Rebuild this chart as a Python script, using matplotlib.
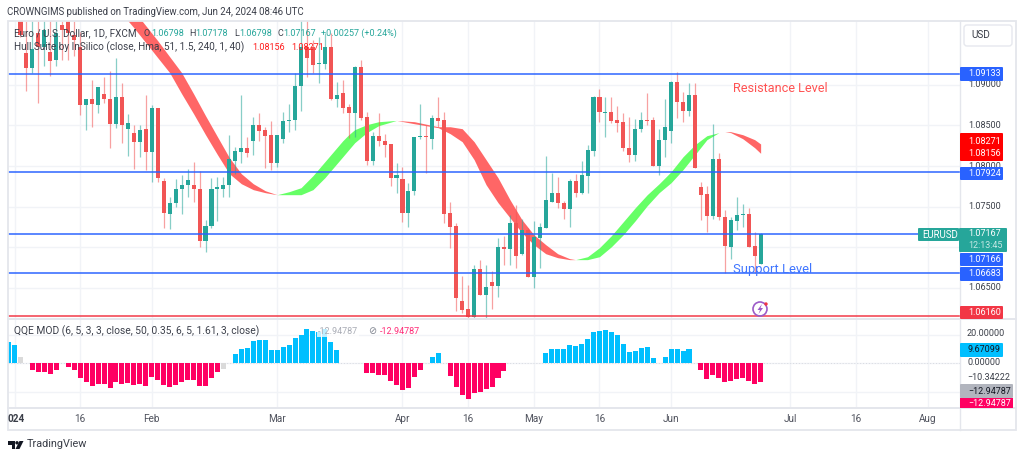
import matplotlib
matplotlib.use("Agg")
import matplotlib.pyplot as plt
from matplotlib.patches import Rectangle, FancyBboxPatch, Circle, Polygon
import numpy as np

plt.rcParams["font.family"] = ["Roboto", "DejaVu Sans"]

# daily candles, the first one is bar 1 (2 Jan 2024)
opens = [1.0986, 1.09394, 1.09209, 1.09640, 1.09467, 1.09406, 1.09308, 1.09738, 1.0986, 1.09615,
         1.09467, 1.08754, 1.08828, 1.08754, 1.08889, 1.08828, 1.08520, 1.08852, 1.08459, 1.08410,
         1.08299, 1.08459, 1.08176, 1.08717, 1.07819, 1.07413, 1.07549, 1.07721, 1.07770, 1.07770,
         1.07721, 1.07081, 1.07266, 1.07721, 1.07721, 1.07770, 1.08065, 1.08176, 1.08225, 1.08311,
         1.08508, 1.08447, 1.08385, 1.08041, 1.08336, 1.08557, 1.08570, 1.08988, 1.09467, 1.09467,
         1.09258, 1.09258, 1.09467, 1.08828, 1.08902, 1.08729, 1.08656, 1.09221, 1.08606, 1.08065,
         1.08373, 1.08311, 1.08274, 1.07856, 1.07844, 1.07426, 1.07696, 1.08360, 1.08373, 1.08336,
         1.08594, 1.08570, 1.07426, 1.07266, 1.06343, 1.06245, 1.06146, 1.06737, 1.06417, 1.06577,
         1.06528, 1.07007, 1.06983, 1.07303, 1.06921, 1.07217, 1.06638, 1.07118, 1.07241, 1.07561,
         1.07672, 1.07549, 1.07475, 1.07819, 1.07672, 1.07881, 1.08188, 1.08852, 1.08656, 1.08668,
         1.08570, 1.08545, 1.08225, 1.08139, 1.08459, 1.08570, 1.08570, 1.08004, 1.08324, 1.08434,
         1.09037, 1.08791, 1.08680, 1.08877, 1.07745, 1.07659, 1.07389, 1.08090, 1.07376, 1.07007,
         1.07327, 1.07401, 1.07413, 1.07020, 1.06798]
highs = [1.0990, 1.09787, 1.0986, 1.0986, 1.0986, 1.0986, 1.0986, 1.09787, 1.0992, 1.09787,
         1.09652, 1.08828, 1.09062, 1.08975, 1.09098, 1.09172, 1.09332, 1.09025, 1.08643, 1.08508,
         1.08508, 1.08877, 1.08754, 1.08717, 1.07856, 1.07622, 1.07844, 1.07893, 1.07967, 1.08053,
         1.07942, 1.07340, 1.07856, 1.07868, 1.07868, 1.08385, 1.08237, 1.08877, 1.08360, 1.08606,
         1.08656, 1.08483, 1.08557, 1.08385, 1.08668, 1.08766, 1.09148, 1.0986, 1.0986, 1.09554,
         1.09590, 1.09640, 1.09640, 1.09037, 1.09062, 1.08766, 1.09234, 1.09308, 1.08668, 1.08422,
         1.08656, 1.08397, 1.08274, 1.08041, 1.07991, 1.07795, 1.08360, 1.08766, 1.08508, 1.08631,
         1.08852, 1.08668, 1.07561, 1.07303, 1.06651, 1.06540, 1.06786, 1.06848, 1.06786, 1.06712,
         1.07118, 1.07143, 1.07401, 1.07524, 1.07352, 1.07241, 1.07327, 1.07303, 1.08127, 1.07918,
         1.07868, 1.07573, 1.07844, 1.07905, 1.08065, 1.08262, 1.08865, 1.08951, 1.08852, 1.08852,
         1.08742, 1.08656, 1.08606, 1.08582, 1.08668, 1.08902, 1.08606, 1.08459, 1.08828, 1.09049,
         1.09160, 1.08914, 1.09025, 1.09025, 1.07807, 1.07758, 1.08520, 1.08164, 1.07463, 1.07376,
         1.07622, 1.07536, 1.07487, 1.07192, 1.07178]
lows = [1.0959, 1.08926, 1.09148, 1.08779, 1.09234, 1.09111, 1.09234, 1.09308, 1.09308, 1.09357,
        1.08631, 1.08447, 1.08483, 1.08656, 1.08779, 1.08225, 1.08471, 1.08287, 1.08127, 1.07967,
        1.08114, 1.07955, 1.07807, 1.07807, 1.07241, 1.07229, 1.07499, 1.07413, 1.07622, 1.07561,
        1.07007, 1.06946, 1.07241, 1.07327, 1.07622, 1.07622, 1.07905, 1.08041, 1.08114, 1.08139,
        1.08311, 1.07979, 1.07955, 1.07991, 1.08287, 1.08422, 1.08447, 1.08680, 1.09098, 1.09148,
        1.09025, 1.09197, 1.08815, 1.08729, 1.08656, 1.08348, 1.08360, 1.08570, 1.08016, 1.08016,
        1.08250, 1.08114, 1.07758, 1.07672, 1.07315, 1.07253, 1.07647, 1.08336, 1.07918, 1.08213,
        1.08483, 1.07303, 1.06995, 1.06220, 1.06196, 1.06109, 1.06134, 1.06417, 1.06134, 1.06245,
        1.06392, 1.06786, 1.06786, 1.06749, 1.06909, 1.06638, 1.06503, 1.06749, 1.07241, 1.07561,
        1.07487, 1.07352, 1.07253, 1.07622, 1.07659, 1.07672, 1.08127, 1.08545, 1.08360, 1.08533,
        1.08422, 1.08188, 1.08053, 1.08065, 1.08422, 1.08508, 1.08004, 1.07893, 1.08114, 1.08287,
        1.08594, 1.08545, 1.08619, 1.07979, 1.07340, 1.07192, 1.07352, 1.07340, 1.06688, 1.06860,
        1.07217, 1.07253, 1.07007, 1.06688, 1.06798]
closes = [1.09615, 1.09209, 1.09443, 1.09467, 1.09677, 1.09295, 1.09640, 1.09677, 1.0964, 1.09554,
          1.08754, 1.08828, 1.08766, 1.08975, 1.08828, 1.08520, 1.08852, 1.08508, 1.08533, 1.08299,
          1.08447, 1.08176, 1.08717, 1.07856, 1.07426, 1.07549, 1.07721, 1.07770, 1.07832, 1.07721,
          1.07081, 1.07266, 1.07721, 1.07745, 1.07770, 1.08090, 1.08188, 1.08225, 1.08164, 1.08508,
          1.08434, 1.08373, 1.08041, 1.08385, 1.08557, 1.08570, 1.08988, 1.09467, 1.09332, 1.09246,
          1.09271, 1.09467, 1.08828, 1.08877, 1.08717, 1.08656, 1.09221, 1.08594, 1.08065, 1.08373,
          1.08311, 1.08262, 1.07856, 1.07893, 1.07426, 1.07696, 1.08360, 1.08373, 1.08360, 1.08594,
          1.08557, 1.07413, 1.07253, 1.06380, 1.06233, 1.06146, 1.06737, 1.06417, 1.06515, 1.06528,
          1.07007, 1.06983, 1.07303, 1.06897, 1.07217, 1.06638, 1.07130, 1.07253, 1.07586, 1.07672,
          1.07549, 1.07475, 1.07819, 1.07672, 1.07893, 1.08201, 1.08852, 1.08668, 1.08668, 1.08557,
          1.08533, 1.08225, 1.08139, 1.08459, 1.08570, 1.08557, 1.08004, 1.08324, 1.08483, 1.09037,
          1.08791, 1.08680, 1.08877, 1.07979, 1.07647, 1.07389, 1.08090, 1.07376, 1.07020, 1.07340,
          1.07401, 1.07413, 1.07007, 1.06897, 1.07167]

# hull band, one part per colour
hull_red_1_x = [16, 18, 20, 22, 24, 26, 28, 30, 32, 34, 36, 38, 40, 42, 44]
hull_red_1_top = [1.10292, 1.10107, 1.09910, 1.09726, 1.09541, 1.09344, 1.09148, 1.08889, 1.08619, 1.08360, 1.08102, 1.07905, 1.07782, 1.07696, 1.07647]
hull_red_1_bot = [1.10058, 1.09873, 1.09701, 1.09517, 1.09332, 1.09148, 1.08889, 1.08643, 1.08385, 1.08139, 1.07905, 1.07782, 1.07709, 1.07672, 1.07647]
hull_green_1_x = [44, 46, 48, 50, 52, 54, 55, 56, 57, 59, 61, 64]
hull_green_1_top = [1.07647, 1.07684, 1.07733, 1.07881, 1.08053, 1.08225, 1.08311, 1.08385, 1.08447, 1.08508, 1.08545, 1.08561]
hull_green_1_bot = [1.07647, 1.07647, 1.07647, 1.07709, 1.07856, 1.08028, 1.08114, 1.08201, 1.08287, 1.08410, 1.08496, 1.08561]
hull_red_2_x = [64, 67, 71, 73, 75, 77, 79, 81, 83, 85, 87, 89, 91, 93, 94]
hull_red_2_top = [1.08561, 1.08545, 1.08483, 1.08483, 1.08459, 1.08299, 1.08078, 1.07856, 1.07586, 1.07340, 1.07155, 1.07032, 1.06921, 1.06860, 1.06848]
hull_red_2_bot = [1.08561, 1.08520, 1.08471, 1.08397, 1.08299, 1.08078, 1.07770, 1.07549, 1.07364, 1.07180, 1.07032, 1.06921, 1.06872, 1.06848, 1.06848]
hull_green_2_x = [94, 96, 98, 100, 102, 104, 106, 108, 110, 112, 114, 116, 118, 119]
hull_green_2_top = [1.06848, 1.06884, 1.06995, 1.07143, 1.07315, 1.07487, 1.07647, 1.07782, 1.07930, 1.08114, 1.08262, 1.08373, 1.08410, 1.08422]
hull_green_2_bot = [1.06848, 1.06848, 1.06884, 1.07007, 1.07155, 1.07327, 1.07512, 1.07672, 1.07795, 1.07955, 1.08139, 1.08324, 1.08410, 1.08422]
hull_red_3_x = [119, 120, 122, 124, 125]
hull_red_3_top = [1.08422, 1.08422, 1.08385, 1.08324, 1.08271]
hull_red_3_bot = [1.08422, 1.08410, 1.08336, 1.08225, 1.08156]

# QQE histogram, the first one is bar -1
qqe_values = [15, 13.1, 4.6, 0, -4.6, -6.2, -6.2, -7.6, -4.6, 0, -2.8, -4.6, -10.6, -13.1, -16.1, -14.3,
              -14.3, -17.2, -13.3, -14.5, -13.8, -15.4, -14.9, -16.3, -9.7, -11.5, -15.6, -16.6, -15.2,
              -13.3, -11.5, -11.7, -16.1, -16.1, -10.6, -6.4, -4.1, 0, 6.4, 9.7, 10.8, 15.4, 16.6, 16.1,
              9.2, 9.2, 11.5, 13.1, 17.5, 20.2, 24.1, 23, 22.3, 24.1, 14.7, 9.2, 0, 0, 0, 0, -6.9, -6.9,
              -8.5, -8.5, -12.6, -15, -18.9, -17.2, -9.7, -4.6, 0, 4.4, 6.9, 0, -8.7, -16.8, -22.3, -25.5,
              -20.9, -20, -17.9, -16.8, -10.1, -5.7, 0, 0, 0, 0, 0, 0, 6.9, 10.3, 10.3, 9.7, 12.6, 12, 13.6,
              16.8, 21.8, 23, 23.4, 21.8, 20.2, 13.6, 8, 8.5, 10.8, 11.3, 3.7, 0, 4.1, 9.7, 10.3, 8.7, 9.7,
              0, -5.1, -11.3, -8.3, -10.1, -13.3, -12.2, -11, -10.3, -12.4, -14.5, -12.95]
qqe_grey_bars = [1, 35]

price_ticks = [1.09, 1.085, 1.08, 1.075, 1.07, 1.065]
price_tick_labels = ["1.09000", "1.08500", "1.08000", "1.07500", "", "1.06500"]
qqe_ticks = [20, 0, -20]
support_resistance = [1.09133, 1.07924, 1.07166, 1.06683]
red_level = 1.0616
time_ticks = [0, 11, 23, 44, 65, 76, 87, 98, 110, 130, 141, 153]
time_labels = ["024", "16", "Feb", "Mar", "Apr", "16", "May", "16", "Jun", "Jul", "16", "Aug"]

UP = "#26A69A"
DOWN = "#F15555"
GRID = "#F1F3F7"
FRAME = "#E4E6EC"
TEXT = "#3B3F4A"
NUM_SIZE = 6.5
W, H = 1024, 458
L, R = 8, 960


def rect(y0, y1):
    return [L / W, 1 - y1 / H, (R - L) / W, (y1 - y0) / H]


fig = plt.figure(figsize=(W / 100, H / 100), dpi=100, facecolor="white")
ax = fig.add_axes(rect(21, 318))
ax2 = fig.add_axes(rect(320, 407))
for a in (ax, ax2):
    a.set_xlim(-1.09, 158.4)
    a.set_xticks(time_ticks)
    a.tick_params(left=False, bottom=False, labelleft=False, labelbottom=False)
    a.grid(True, color=GRID, lw=1)
    a.set_axisbelow(True)
    for s in a.spines.values():
        s.set_visible(False)

# price pane
ax.set_ylim(1.06130, 1.09784)
ax.set_yticks(price_ticks)

for xs, top, bot, c in [(hull_red_1_x, hull_red_1_top, hull_red_1_bot, "#FF6666"),
                        (hull_green_1_x, hull_green_1_top, hull_green_1_bot, "#66FF66"),
                        (hull_red_2_x, hull_red_2_top, hull_red_2_bot, "#FF6666"),
                        (hull_green_2_x, hull_green_2_top, hull_green_2_bot, "#66FF66"),
                        (hull_red_3_x, hull_red_3_top, hull_red_3_bot, "#FF6666")]:
    ax.fill_between(xs, bot, top, color=c, lw=0, zorder=2)

bars = np.arange(1, len(opens) + 1)
o = np.array(opens)
c = np.array(closes)
colors = [UP if cl >= op else DOWN for op, cl in zip(o, c)]
ax.vlines(bars, lows, highs, colors=colors, lw=0.9, alpha=0.55, zorder=3)
body = np.maximum(np.abs(c - o), 0.00012)
ax.bar(bars, body, bottom=np.minimum(o, c), width=0.68, color=colors, lw=0, zorder=4)

ax.hlines(support_resistance, -2, 160, colors="#2962FF", lw=1.2, alpha=0.9, zorder=5)
ax.hlines(red_level, -2, 160, colors="#F23645", lw=1.2, alpha=0.9, zorder=5)

ax.text(120.4, 1.08950, "Resistance Level", color="#FF5252", fontsize=9.1, va="center", zorder=6)
ax.text(120.4, 1.06730, "Support Level", color="#3F75FF", fontsize=9.4, va="center", zorder=6)

# QQE pane
ax2.set_ylim(-30.8, 30.4)
ax2.set_yticks(qqe_ticks)
qqe_x = np.arange(-1, len(qqe_values) - 1)
qqe_colors = []
for b, v in zip(qqe_x, qqe_values):
    if b in qqe_grey_bars:
        qqe_colors.append("#DADADA")
    elif v > 0:
        qqe_colors.append("#00BFFF")
    else:
        qqe_colors.append("#FF0062")
ax2.bar(qqe_x, qqe_values, width=0.84, color=qqe_colors, lw=0, zorder=3)
ax2.axhline(0, color="#D8DAE0", lw=0.7, ls=(0, (1, 2)), zorder=2)

# everything around the panes is placed in pixels
ov = fig.add_axes([0, 0, 1, 1], facecolor="none", zorder=10)
ov.set_xlim(0, W)
ov.set_ylim(H, 0)
ov.axis("off")


def label(x, y, s, color=TEXT, size=7.2, **kw):
    kw.setdefault("va", "center")
    ov.text(x, y, s, color=color, fontsize=size, **kw)


# frame
ov.add_patch(Rectangle((8, 21), 1008, 409, fill=False, ec=FRAME, lw=1.3))
ov.plot([8, 1016], [319, 319], color=FRAME, lw=1.4)
ov.plot([8, 1016], [407.5, 407.5], color=FRAME, lw=1.4)
ov.plot([960, 960], [21, 430], color=FRAME, lw=1)

label(7, 12, "CROWNGIMS published on TradingView.com, Jun 24, 2024 08:46 UTC", size=6.95)

# legends
label(14, 33, "Euro / U.S. Dollar, 1D, FXCM", size=7.1)
for x, s, col in [(143, "O", TEXT), (151, "1.06798", UP), (189, "H", TEXT), (195, "1.07178", UP),
                  (234, "L", TEXT), (239, "1.06798", UP), (278, "C", TEXT), (283, "1.07167", UP),
                  (321, "+0.00257 (+0.24%)", UP)]:
    label(x, 33, s, col, size=NUM_SIZE)
label(14, 47, "Hull Suite by InSilico (close, Hma, 51, 1.5, 240, 1, 40)")
label(252, 47, "1.08156", "#FF1A1A", size=NUM_SIZE)
label(291, 47, "1.08271", "#FF1A1A", size=NUM_SIZE)
label(14, 331, "QQE MOD (6, 5, 3, 3, close, 50, 0.35, 6, 5, 1.61, 3, close)", size=7.4)
label(358, 331, "-12.94787", "#A9ACB5", size=NUM_SIZE, ha="right",
      bbox=dict(fc="white", ec="none", alpha=0.75, pad=1))
label(368, 331, "\u2298", "#808590", size=7)
label(380, 331, "-12.94787", "#FF2D78", size=NUM_SIZE)

# price axis
for p, s in zip(price_ticks, price_tick_labels):
    if s:
        yy = 84.7 + (1.09 - p) / 0.000123
        label(968, yy, s, "#3A3E48", size=NUM_SIZE)
label(967, 334, "20.00000", "#3A3E48", size=NUM_SIZE)
label(967, 362.5, "0.00000", "#3A3E48", size=NUM_SIZE)
label(967, 377, "\u221210.34222", "#3A3E48", size=NUM_SIZE)


def tag(y0, y1, s, fc, x0=960, x1=1003, tc="white", ty=None):
    ov.add_patch(FancyBboxPatch((x0 + 1, y0 + 1), x1 - x0 - 2, y1 - y0 - 2, boxstyle="round,pad=1",
                                fc=fc, ec="none", zorder=3))
    label(968, (y0 + y1) / 2 if ty is None else ty, s, tc, size=NUM_SIZE, zorder=4)


tag(67, 81, "1.09133", "#2962FF")
tag(133, 161, "1.08271", "#FF0000", ty=141)
label(968, 154, "1.08156", "white", size=NUM_SIZE, zorder=4)
tag(167, 180, "1.07924", "#2962FF")
tag(253, 266, "1.07166", "#2962FF")
tag(267, 281, "1.06683", "#2962FF")
tag(306, 319, "1.06160", "#F23645")
tag(343, 357, "9.67099", "#00BFFF", tc="#131722")
tag(384, 398, "\u221212.94787", "#B2B5BE", x1=1013, tc="#131722")
ov.add_patch(Rectangle((960, 398), 53, 9.5, fc="#FF0062", ec="none", zorder=3))
t = ov.text(968, 403.5, "\u221212.94787", color="white", fontsize=NUM_SIZE, va="center", zorder=4)
t.set_clip_path(Rectangle((960, 398), 53, 9.5, transform=ov.transData))

ov.add_patch(FancyBboxPatch((965, 26), 46, 19, boxstyle="round,pad=1,rounding_size=3", fc="white",
                            ec="#E6E8EE", lw=1))
label(971, 35, "USD", "#3A3E48")

# last price tag
ov.add_patch(FancyBboxPatch((960, 229), 46, 22, boxstyle="round,pad=1", fc="#26A69A", ec="none", zorder=3))
label(968, 234, "1.07167", "white", size=NUM_SIZE, zorder=4)
label(968, 246, "12:13:45", "#C4E8E4", size=NUM_SIZE, zorder=4)
ov.add_patch(FancyBboxPatch((919, 229), 39, 11, boxstyle="round,pad=1", fc="#26A69A", ec="none", zorder=3))
label(922, 234.5, "EURUSD", "white", size=6.9, zorder=4)

# time axis
for b, s in zip(time_ticks, time_labels):
    xx = 14.5 + 5.97 * b
    if s == "024":
        label(8, 419, s, "#3A3E48", weight="bold", size=7.2)
    else:
        label(xx, 419, s, "#50535E", ha="center")

# lightning badge
ov.add_patch(Circle((760, 309), 7, fill=False, ec="#9C5BC8", lw=1.2))
ov.add_patch(Polygon([(762, 304), (757.5, 310), (760, 310), (758.5, 314), (763, 308), (760.5, 308)],
                     fc="#9C5BC8", ec="none"))
ov.add_patch(Circle((766, 304), 1.7, fc="#F23645", ec="none"))

# TradingView logo
ov.add_patch(Polygon([(8, 441), (15, 441), (15, 449), (11.5, 449), (11.5, 444.5), (8, 444.5)],
                     fc="#131722", ec="none"))
ov.add_patch(Circle((17, 442.8), 1.7, fc="#131722", ec="none"))
ov.add_patch(Polygon([(19.5, 441), (23.5, 441), (19.5, 449), (15.5, 449)], fc="#131722", ec="none"))
label(27, 444, "TradingView", "#3A3E48", size=7.8)

fig.savefig("out.png", dpi=100)
